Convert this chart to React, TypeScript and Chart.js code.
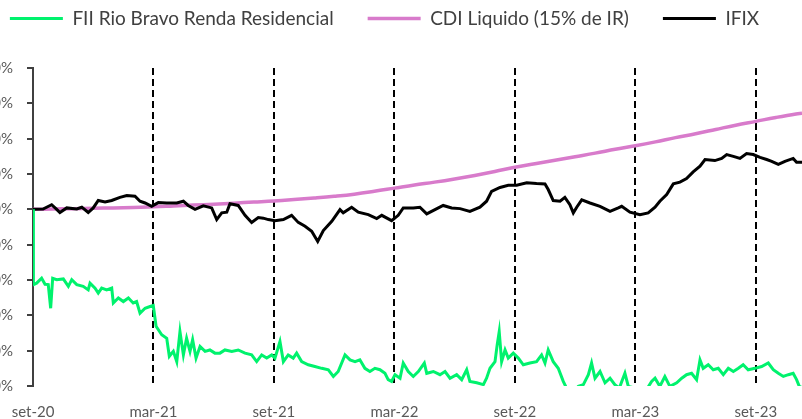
import React, { useEffect, useRef } from 'react';
import { Chart, registerables } from 'chart.js';

Chart.register(...registerables);

// x positions are months since set-20
const tickMonths = [0, 6, 12, 18, 24, 30, 36];
const tickLabels = ['set-20', 'mar-21', 'set-21', 'mar-22', 'set-22', 'mar-23', 'set-23'];
const yTicks = [-50, -40, -30, -20, -10, 0, 10, 20, 30, 40];
const xMax = 38.3;

const seriesNames = ['FII Rio Bravo Renda Residencial', 'CDI Liquido (15% de IR)', 'IFIX'];

const fiiSeries: [number, number][] = [
  [0, 0], [0.02, -21.3], [0.18, -20.9], [0.43, -19.5], [0.6, -21.2], [0.76, -21.3], [0.88, -28], [0.98, -19.5],
  [1.18, -19.9], [1.51, -19.7], [1.76, -21.8], [1.93, -19.9], [2.18, -21.3], [2.5, -21.8], [2.75, -22.8], [2.84, -20.9],
  [3.09, -22.3], [3.25, -23.7], [3.42, -22.3], [3.67, -22.8], [3.92, -22.3], [4.0, -26.5], [4.25, -25.1], [4.5, -26.1],
  [4.75, -25.1], [4.99, -26.5], [5.16, -26.1], [5.33, -29.4], [5.58, -28.0], [5.83, -27.5], [5.99, -27.2], [6.13, -33.1],
  [6.41, -35.5], [6.66, -36.5], [6.79, -41.6], [6.99, -40.2], [7.16, -43.1], [7.32, -34.6], [7.49, -41.2], [7.65, -36.5],
  [7.82, -40.2], [7.95, -36.9], [8.12, -42.1], [8.32, -38.8], [8.57, -40.2], [8.81, -39.8], [9.06, -40.7], [9.31, -40.7],
  [9.56, -39.8], [9.9, -40.2], [10.22, -39.8], [10.56, -40.7], [10.89, -41.2], [11.14, -43.1], [11.39, -41.2], [11.64, -42.1],
  [11.89, -41.2], [12.05, -42.1], [12.3, -37.4], [12.47, -43.1], [12.71, -41.2], [12.96, -42.1], [13.13, -40.7], [13.38, -43.1],
  [13.71, -44.0], [14.04, -44.5], [14.38, -45.0], [14.71, -45.4], [14.96, -47.3], [15.2, -45.9], [15.54, -41.2], [15.79, -42.6],
  [16.04, -43.1], [16.28, -42.6], [16.53, -45.0], [16.78, -45.9], [17.03, -45.0], [17.28, -45.4], [17.53, -46.4], [17.69, -48.2],
  [17.86, -48.7], [18.03, -46.8], [18.28, -47.8], [18.44, -43.5], [18.69, -45.9], [18.94, -47.3], [19.19, -45.9], [19.49, -43.5],
  [19.61, -46.4], [19.94, -45.9], [20.27, -46.8], [20.52, -45.9], [20.77, -47.8], [21.1, -46.8], [21.35, -48.2], [21.6, -45.4],
  [21.76, -48.7], [22.1, -49.1], [22.43, -49.6], [22.59, -47.8], [22.76, -45.0], [23.01, -43.1], [23.12, -38.3], [23.22, -34.6],
  [23.34, -43.1], [23.51, -39.8], [23.67, -42.1], [23.92, -40.7], [24.17, -42.1], [24.42, -44.0], [24.75, -43.5], [25.08, -43.1],
  [25.33, -41.2], [25.5, -43.5], [25.66, -39.8], [25.91, -43.1], [26.16, -45.0], [26.41, -48.7], [26.66, -51.6], [26.91, -51.6],
  [27.16, -50.1], [27.41, -49.6], [27.66, -46.8], [27.82, -43.5], [27.99, -47.8], [28.24, -45.9], [28.49, -49.1], [28.74, -47.8],
  [28.98, -49.6], [29.2, -50.6], [29.48, -46.4], [29.65, -50.1], [29.98, -50.6], [30.31, -51.6], [30.56, -51.0], [30.81, -48.7],
  [30.98, -47.8], [31.22, -50.1], [31.47, -47.3], [31.72, -50.1], [32.06, -49.1], [32.31, -47.8], [32.55, -46.8], [32.8, -46.4],
  [33.05, -48.2], [33.22, -42.6], [33.38, -45.0], [33.63, -44.0], [33.88, -45.4], [34.13, -45.0], [34.38, -46.8], [34.63, -45.0],
  [34.88, -45.9], [35.13, -45.0], [35.37, -44.0], [35.62, -45.4], [35.96, -45.0], [36.29, -44.5], [36.62, -43.5], [36.87, -45.4],
  [37.12, -46.4], [37.37, -47.3], [37.62, -46.8], [37.86, -46.4], [38.03, -48.2], [38.2, -50.6], [38.3, -50.1],
];

const cdiSeries: [number, number][] = [
  [0, 0], [1, 0.1], [2, 0.2], [3, 0.3], [4, 0.4], [5, 0.55], [6, 0.7], [7, 0.95], [8, 1.2], [9, 1.45],
  [10, 1.75], [11, 2.05], [12, 2.35], [13, 2.75], [14, 3.2], [15, 3.7], [16, 4.3], [17, 5.1], [18, 6.0], [19, 6.9],
  [20, 7.7], [21, 8.6], [22, 9.6], [23, 10.7], [24, 11.9], [25, 12.9], [26, 13.9], [27, 14.9], [28, 15.9], [29, 17.0],
  [30, 18.0], [31, 19.1], [32, 20.3], [33, 21.4], [34, 22.6], [35, 23.8], [36, 24.9], [37, 26.0], [38, 27.0], [38.3, 27.2],
];

const ifixSeries: [number, number][] = [
  [0, 0], [0.5, 0.1], [0.93, 1.3], [1.18, 0], [1.34, -0.9], [1.68, 0.4], [2.18, 0.1], [2.43, 0.6], [2.75, -0.9], [3.0, 0.4],
  [3.25, 2.5], [3.59, 2.1], [3.92, 2.5], [4.33, 3.4], [4.67, 3.9], [5.08, 3.7], [5.33, 2.3], [5.58, 1.8], [5.91, 0.85], [6.24, 1.9],
  [6.66, 1.8], [7.16, 1.8], [7.49, 2.3], [7.73, 1.1], [8.07, 0], [8.48, 1.0], [8.9, 0.4], [9.15, -2.9], [9.4, -1.0], [9.65, -0.8],
  [9.81, 1.6], [10.22, 1.1], [10.56, -1.7], [10.89, -3.7], [11.22, -2.3], [11.47, -2.5], [11.72, -2.9], [12.05, -3.2], [12.47, -2.9], [12.88, -1.7],
  [13.21, -3.7], [13.55, -4.8], [13.88, -6.2], [14.18, -9.1], [14.46, -6.0], [14.88, -3.4], [15.29, -0.1], [15.45, -1.0], [15.87, 0.6], [16.2, -0.8],
  [16.7, -1.5], [17.12, -2.6], [17.37, -1.7], [17.86, -3.2], [18.19, -1.7], [18.44, 0.4], [18.94, 0.4], [19.27, 0.6], [19.61, -1.3], [20.02, -0.1],
  [20.43, 1.1], [20.85, 0.4], [21.27, 0.2], [21.76, -0.6], [22.26, 0.6], [22.59, 2.3], [22.84, 5.1], [23.26, 6.2], [23.67, 6.8], [24.09, 6.8],
  [24.59, 7.5], [25.08, 7.3], [25.5, 7.2], [25.66, 5.6], [25.91, 2.5], [26.25, 2.3], [26.49, 3.4], [26.74, 1.3], [26.91, -1.0], [27.08, 0.6],
  [27.33, 2.7], [27.74, 1.8], [28.24, 0.85], [28.74, -0.6], [29.15, 0.4], [29.32, 0.85], [29.73, -0.8], [30.23, -1.5], [30.64, -1.0], [30.98, 0.6],
  [31.22, 2.3], [31.56, 4.2], [31.89, 7.2], [32.22, 7.7], [32.55, 8.7], [32.88, 10.6], [33.22, 12.2], [33.47, 14.1], [33.96, 13.8], [34.3, 14.4],
  [34.55, 15.5], [34.88, 15.0], [35.21, 14.4], [35.54, 15.8], [35.87, 15.5], [36.21, 14.7], [36.54, 14.1], [36.79, 13.6], [37.12, 12.7], [37.45, 13.6],
  [37.86, 14.4], [38.03, 13.3], [38.3, 13.3],
];

const toPoints = (s: [number, number][]) => s.map(([x, y]) => ({ x, y }));

const FONT = 'Lato, "Noto Sans", sans-serif';

export default function App() {
  const ref = useRef<HTMLCanvasElement | null>(null);

  useEffect(() => {
    if (!ref.current) return;
    const legendSpacer = {
      id: 'legendSpacer',
      beforeInit(chart: any) {
        const orig = chart.legend.fit;
        chart.legend.fit = function () {
          orig.bind(chart.legend)();
          this.height += 30;
        };
      },
    };
    const chart = new Chart(ref.current, {
      type: 'line',
      data: {
        datasets: [
          {
            label: seriesNames[0],
            data: toPoints(fiiSeries),
            borderColor: '#00F26D',
            backgroundColor: '#00F26D',
            borderWidth: 3,
            pointRadius: 0,
            tension: 0,
            order: 0,
          },
          {
            label: seriesNames[1],
            data: toPoints(cdiSeries),
            borderColor: '#D87BCB',
            backgroundColor: '#D87BCB',
            borderWidth: 3.5,
            pointRadius: 0,
            tension: 0.4,
            order: 2,
          },
          {
            label: seriesNames[2],
            data: toPoints(ifixSeries),
            borderColor: '#000000',
            backgroundColor: '#000000',
            borderWidth: 3,
            pointRadius: 0,
            tension: 0,
            order: 1,
          },
        ],
      },
      options: {
        animation: false,
        responsive: false,
        parsing: false as any,
        normalized: true,
        layout: { padding: 0 },
        plugins: {
          legend: {
            position: 'top',
            labels: {
              usePointStyle: true,
              pointStyle: 'line',
              pointStyleWidth: 53,
              padding: 34,
              color: '#404040',
              font: { family: FONT, size: 19 },
              sort: (a: any, b: any) => a.datasetIndex - b.datasetIndex,
            },
          },
          tooltip: { enabled: false },
        },
        scales: {
          x: {
            type: 'linear',
            min: 0,
            max: xMax,
            afterBuildTicks: (s: any) => {
              s.ticks = tickMonths.map((v) => ({ value: v }));
            },
            ticks: {
              autoSkip: false,
              maxRotation: 0,
              padding: 17,
              color: '#595959',
              font: { family: FONT, size: 15 },
              callback: (v: any) => {
                const i = tickMonths.indexOf(Number(v));
                return i >= 0 ? tickLabels[i] : '';
              },
            },
            grid: {
              color: (ctx: any) => (ctx.index === 0 ? 'rgba(0,0,0,0)' : '#000000'),
              lineWidth: 2,
              drawTicks: false,
            },
            border: { display: false, dash: [7, 4] },
          },
          y: {
            type: 'linear',
            min: -50,
            max: 40,
            afterBuildTicks: (s: any) => {
              s.ticks = yTicks.map((v) => ({ value: v }));
            },
            afterFit: (s: any) => {
              s.width = 66;
            },
            ticks: {
              padding: 14,
              color: '#595959',
              font: { family: FONT, size: 15 },
              callback: (v: any) => `${v}%`,
            },
            grid: {
              drawOnChartArea: false,
              drawTicks: true,
              tickLength: 6,
              color: '#404040',
              lineWidth: 2,
            },
            border: { display: true, color: '#404040', width: 2 },
          },
        },
      },
      plugins: [legendSpacer],
    } as any);
    return () => chart.destroy();
  }, []);

  return (
    <div
      style={{
        position: 'fixed',
        left: 0,
        top: 0,
        width: 802,
        height: 419,
        overflow: 'hidden',
        background: '#ffffff',
      }}
    >
      <canvas
        ref={ref}
        width={835}
        height={463}
        style={{ position: 'absolute', left: -33, top: -25, width: 835, height: 463 }}
      />
    </div>
  );
}
